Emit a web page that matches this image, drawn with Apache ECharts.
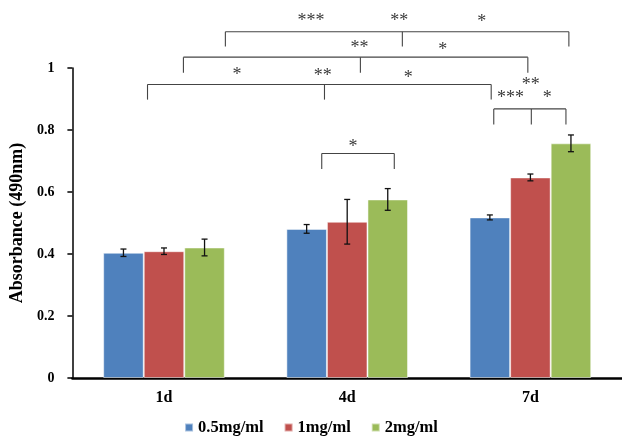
<!DOCTYPE html>
<html>
<head>
<meta charset="utf-8">
<script src="https://cdn.jsdelivr.net/npm/echarts@6/dist/echarts.min.js"></script>
<style>html,body{margin:0;padding:0;background:#fff}#c{width:622px;height:440px}</style>
</head>
<body>
<div id="c"></div>
<script>
// ---- data ----
const categories = ['1d', '4d', '7d'];
const seriesNames = ['0.5mg/ml', '1mg/ml', '2mg/ml'];
const mean05 = [0.404, 0.481, 0.518];
const mean1 = [0.409, 0.504, 0.647];
const mean2 = [0.421, 0.576, 0.757];
const err05 = [0.012, 0.014, 0.008];
const err1 = [0.0105, 0.072, 0.011];
const err2 = [0.027, 0.035, 0.027];
const yTicks = [0, 0.2, 0.4, 0.6, 0.8, 1];
// significance brackets: x positions in category units, y in value units
const brackets = [
  { y: 1.117, drop: 1.069, xs: [0.335, 1.301, 2.210] },
  { y: 1.035, drop: 0.985, xs: [0.106, 1.072, 1.986] },
  { y: 0.947, drop: 0.898, xs: [-0.090, 0.876, 1.786] },
  { y: 0.868, drop: 0.818, xs: [1.800, 2.005, 2.194] },
  { y: 0.724, drop: 0.674, xs: [0.861, 1.257] }
];
const sigLabels = [
  { t: '***', x: 0.802, y: 1.165 },
  { t: '**', x: 1.284, y: 1.163 },
  { t: '*', x: 1.734, y: 1.160 },
  { t: '**', x: 1.067, y: 1.077 },
  { t: '*', x: 1.522, y: 1.071 },
  { t: '*', x: 0.399, y: 0.988 },
  { t: '**', x: 0.867, y: 0.986 },
  { t: '*', x: 1.333, y: 0.981 },
  { t: '**', x: 2.002, y: 0.956 },
  { t: '***', x: 1.891, y: 0.916 },
  { t: '*', x: 2.092, y: 0.915 },
  { t: '*', x: 1.032, y: 0.757 }
];
const colors = ['#4F81BD', '#C0504D', '#9BBB59'];
const means = [mean05, mean1, mean2];
const errs = [err05, err1, err2];
const CAT_GAP = 0.336;
const FONT = '"Liberation Serif","Times New Roman",serif';

const chart = echarts.init(document.getElementById('c'));
const series = [];
means.forEach((m, s) => {
  series.push({
    name: seriesNames[s], type: 'bar', data: m,
    barGap: '0%', barCategoryGap: (CAT_GAP * 100) + '%',
    itemStyle: { color: colors[s], borderColor: 'rgba(255,255,255,0.5)', borderWidth: 1 },
    z: 2
  });
});
means.forEach((m, s) => {
  series.push({
    name: 'err' + s, type: 'custom', z: 5,
    data: m.map((v, i) => [i, v, errs[s][i]]),
    renderItem: function (params, api) {
      const i = api.value(0), v = api.value(1), e = api.value(2);
      const band = api.size([1, 0])[0];
      const bw = band * (1 - CAT_GAP) / 3;
      const cx = api.coord([i, v])[0] + (s - 1) * bw;
      const yt = api.coord([i, v + e])[1];
      const yb = api.coord([i, v - e])[1];
      const st = { stroke: '#111', lineWidth: 1.3 };
      return { type: 'group', children: [
        { type: 'line', shape: { x1: cx, y1: yt, x2: cx, y2: yb }, style: st },
        { type: 'line', shape: { x1: cx - 3, y1: yt, x2: cx + 3, y2: yt }, style: st },
        { type: 'line', shape: { x1: cx - 3, y1: yb, x2: cx + 3, y2: yb }, style: st }
      ]};
    }
  });
});

chart.setOption({
  animation: false,
  color: colors,
  grid: { left: 72, top: 68, bottom: 62, width: 556 },
  legend: {
    data: seriesNames, top: 414, left: 'center',
    itemWidth: 8, itemHeight: 8, itemGap: 20, icon: 'rect',
    textStyle: { fontFamily: FONT, fontWeight: 'bold', fontSize: 16.5, color: '#000' }
  },
  xAxis: {
    type: 'category', data: categories,
    axisLine: { lineStyle: { color: '#000', width: 2.5 } },
    axisTick: { show: false },
    axisLabel: { fontFamily: FONT, fontWeight: 'bold', fontSize: 16, color: '#000', margin: 12 }
  },
  yAxis: {
    type: 'value', min: 0, max: 1, interval: 0.2,
    name: 'Absorbance (490nm)', nameLocation: 'middle', nameGap: 38,
    nameTextStyle: { fontFamily: FONT, fontWeight: 'bold', fontSize: 18, color: '#000' },
    axisLine: { show: true, lineStyle: { color: '#000', width: 1.5 } },
    axisTick: { show: true, length: 5, lineStyle: { color: '#000', width: 1.5 } },
    splitLine: { show: false },
    axisLabel: { fontFamily: FONT, fontWeight: 'bold', fontSize: 14, color: '#000', margin: 18,
      formatter: v => yTicks.indexOf(+v.toFixed(2)) >= 0 ? String(+v.toFixed(2)) : '' }
  },
  series: series
});

// brackets and significance labels
const p0 = chart.convertToPixel({ gridIndex: 0 }, [0, 0]);
const p1 = chart.convertToPixel({ gridIndex: 0 }, [1, 1]);
const X = c => p0[0] + c * (p1[0] - p0[0]);
const Y = v => p0[1] + v * (p1[1] - p0[1]);
const g = [];
const ls = { stroke: '#444', lineWidth: 1.1 };
brackets.forEach(b => {
  const x1 = X(b.xs[0]), x2 = X(b.xs[b.xs.length - 1]);
  g.push({ type: 'line', shape: { x1: x1, y1: Y(b.y), x2: x2, y2: Y(b.y) }, style: ls });
  b.xs.forEach(c => g.push({ type: 'line', shape: { x1: X(c), y1: Y(b.y), x2: X(c), y2: Y(b.drop) }, style: ls }));
});
sigLabels.forEach(l => {
  g.push({ type: 'text', x: X(l.x), y: Y(l.y) + 4,
    style: { text: l.t, align: 'center', verticalAlign: 'middle', font: '18px ' + FONT, fill: '#3a3a3a' } });
});
chart.setOption({ graphic: g });
</script>
</body>
</html>
